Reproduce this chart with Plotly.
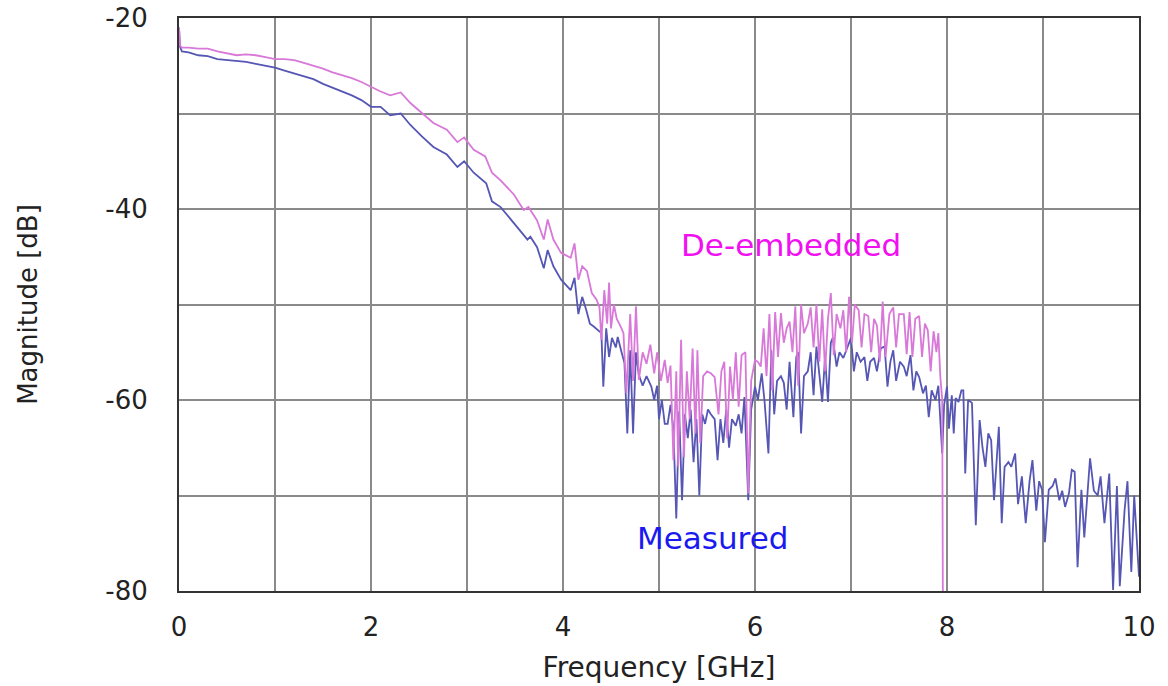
import plotly.graph_objects as go

# ---------------- data ----------------
deemb_freq = [0.00, 0.01, 0.03, 0.10, 0.20, 0.30, 0.40, 0.50, 0.60, 0.70, 0.80, 0.90,
              1.00, 1.10, 1.20, 1.30, 1.40, 1.50, 1.60, 1.70, 1.80, 1.90, 2.00, 2.10,
              2.20, 2.31, 2.41, 2.53, 2.65, 2.79, 2.90, 2.97, 3.07, 3.19, 3.26, 3.35,
              3.49, 3.59, 3.64, 3.73, 3.80, 3.84, 3.90, 3.98, 4.08, 4.12, 4.16,
              4.20, 4.25, 4.30, 4.35, 4.38, 4.40, 4.43, 4.46, 4.48,
              4.50, 4.53, 4.56, 4.60, 4.63, 4.66, 4.70, 4.73, 4.76, 4.79, 4.83, 4.87,
              4.91, 4.95, 4.98, 5.02, 5.06, 5.09, 5.12, 5.15, 5.18, 5.20, 5.23, 5.26,
              5.29, 5.32, 5.35, 5.38, 5.40, 5.43, 5.46, 5.50, 5.54, 5.58, 5.62, 5.65,
              5.68, 5.71, 5.74, 5.77, 5.80, 5.83, 5.86, 5.90, 5.93, 5.96, 6.00, 6.03,
              6.06, 6.09, 6.12, 6.15, 6.18, 6.21, 6.24, 6.27, 6.30, 6.33, 6.36, 6.39,
              6.42, 6.45, 6.48, 6.51, 6.55, 6.58, 6.61, 6.64, 6.67, 6.70, 6.73, 6.76,
              6.79, 6.82, 6.85, 6.89, 6.92, 6.95, 6.98, 7.01, 7.04, 7.08, 7.11, 7.14,
              7.18, 7.21, 7.24, 7.27, 7.30, 7.33, 7.36, 7.40, 7.44, 7.47, 7.50, 7.55,
              7.58, 7.61, 7.64, 7.67, 7.71, 7.74, 7.77, 7.80, 7.83, 7.86, 7.89, 7.91,
              7.93, 7.95, 7.96]
deemb_db = [-21.0, -22.9, -23.1, -23.1, -23.2, -23.2, -23.5, -23.7, -23.9, -23.8, -23.9, -24.1,
            -24.3, -24.3, -24.4, -24.7, -25.0, -25.3, -25.7, -26.0, -26.3, -26.7, -27.2, -27.7,
            -28.1, -27.8, -28.9, -30.0, -31.0, -31.7, -33.0, -32.5, -33.8, -34.5, -36.2, -37.0,
            -38.5, -40.1, -39.8, -41.2, -43.2, -41.1, -43.2, -44.6, -45.1, -43.6, -47.4,
            -46.0, -46.5, -48.8, -49.5, -50.3, -53.7, -48.5, -52.0, -47.7,
            -52.5, -50.0, -51.5, -52.3, -53.0, -59.3, -51.0, -58.0, -50.2, -57.9, -55.0, -56.2,
            -54.2, -57.2, -55.0, -58.0, -55.8, -58.2, -56.4, -66.3, -57.0, -67.0, -53.7, -66.0,
            -57.0, -62.0, -54.6, -63.5, -54.8, -64.5, -57.5, -57.0, -57.2, -57.6, -61.5, -57.0,
            -56.0, -64.0, -56.5, -60.0, -55.0, -60.7, -55.3, -55.0, -69.8, -58.0, -55.8, -56.0,
            -56.5, -52.5, -57.5, -51.0, -59.0, -50.8, -55.5, -50.9, -54.0, -52.5, -51.8, -55.0,
            -50.2, -58.5, -50.0, -53.0, -52.0, -50.3, -54.5, -50.0, -56.0, -50.5, -57.0, -51.5,
            -48.8, -55.3, -51.0, -52.5, -50.6, -55.0, -49.2, -54.0, -50.0, -50.6, -54.5, -51.0,
            -51.2, -55.0, -51.5, -52.2, -56.0, -49.7, -55.5, -51.0, -50.3, -54.5, -51.0, -51.0,
            -55.2, -50.8, -55.5, -51.5, -51.2, -55.5, -52.0, -52.7, -57.0, -52.8, -55.0, -53.0,
            -57.5, -60.0, -90.0]

meas_freq = [0.00, 0.01, 0.03, 0.10, 0.20, 0.30, 0.40, 0.50, 0.60, 0.70, 0.80, 0.90,
             1.00, 1.10, 1.20, 1.30, 1.40, 1.50, 1.60, 1.70, 1.80, 1.90, 2.00, 2.10,
             2.20, 2.31, 2.41, 2.53, 2.65, 2.79, 2.90, 2.97, 3.07, 3.20, 3.26, 3.35,
             3.49, 3.63, 3.66, 3.73, 3.80, 3.84, 3.90, 3.98, 4.08, 4.12, 4.16,
             4.20, 4.24, 4.28, 4.32, 4.36, 4.40,
             4.42, 4.45, 4.48, 4.51, 4.55, 4.57, 4.61, 4.64, 4.67, 4.70, 4.73, 4.76,
             4.79, 4.83, 4.87, 4.92, 4.95, 4.98, 5.00, 5.03, 5.06, 5.09, 5.12, 5.15,
             5.18, 5.21, 5.24, 5.27, 5.30, 5.33, 5.36, 5.39, 5.42, 5.45, 5.48, 5.51,
             5.54, 5.58, 5.61, 5.64, 5.67, 5.70, 5.73, 5.76, 5.80, 5.83, 5.86, 5.89,
             5.93, 5.96, 6.00, 6.03, 6.07, 6.10, 6.14, 6.17, 6.20, 6.23, 6.27, 6.30,
             6.33, 6.36, 6.40, 6.43, 6.45, 6.48, 6.51, 6.55, 6.58, 6.61, 6.64, 6.67,
             6.70, 6.73, 6.76, 6.79, 6.81, 6.85, 6.88, 6.92, 6.96, 7.00, 7.03, 7.06,
             7.10, 7.14, 7.17, 7.20, 7.24, 7.27, 7.31, 7.35, 7.38, 7.41, 7.44, 7.47,
             7.51, 7.55, 7.58, 7.62, 7.65, 7.68, 7.71, 7.75, 7.78, 7.81, 7.84, 7.88,
             7.91, 7.93, 7.95, 7.97, 8.00, 8.02, 8.05, 8.07, 8.09, 8.12, 8.15, 8.17,
             8.19, 8.22, 8.26, 8.30, 8.34, 8.37, 8.40, 8.43, 8.46, 8.49, 8.54, 8.57,
             8.60, 8.64, 8.67, 8.71, 8.74, 8.78, 8.82, 8.86, 8.89, 8.93, 8.96, 8.99,
             9.02, 9.06, 9.10, 9.13, 9.17, 9.20, 9.23, 9.27, 9.30, 9.33, 9.36, 9.40,
             9.43, 9.49, 9.53, 9.57, 9.60, 9.64, 9.69, 9.73, 9.77, 9.80, 9.85, 9.88,
             9.92, 9.95, 10.00]
meas_db = [-21.0, -23.0, -23.5, -23.6, -23.9, -24.0, -24.3, -24.4, -24.5, -24.6, -24.8, -25.0,
           -25.2, -25.5, -25.8, -26.1, -26.4, -26.9, -27.3, -27.7, -28.1, -28.6, -29.3, -29.3,
           -30.2, -30.0, -31.2, -32.4, -33.5, -34.3, -35.6, -35.0, -36.2, -37.3, -39.2, -39.8,
           -41.5, -43.2, -42.9, -44.0, -46.2, -44.3, -46.0, -47.4, -48.5, -47.2, -51.0,
           -49.2, -50.5, -52.0, -52.3, -52.7, -53.0,
           -58.6, -52.5, -55.5, -53.5, -54.5, -53.4, -55.0, -56.1, -63.5, -54.8, -63.5, -55.0,
           -57.4, -58.5, -57.5, -58.6, -60.0, -58.5, -62.0, -60.0, -62.5, -62.5, -60.5, -63.0,
           -72.4, -61.2, -70.5, -61.5, -64.0, -61.0, -66.5, -62.0, -70.0, -61.5, -62.5, -61.0,
           -61.5, -62.0, -66.3, -62.0, -64.5, -61.0, -65.0, -62.0, -62.7, -61.5, -63.5, -59.7,
           -70.5, -61.0, -58.6, -60.0, -57.2, -60.2, -65.6, -54.8, -61.5, -58.0, -57.5, -58.2,
           -61.0, -56.0, -61.8, -55.5, -55.0, -63.5, -57.5, -57.0, -55.0, -59.5, -54.4, -57.5,
           -60.2, -55.5, -60.2, -54.0, -53.5, -56.5, -55.0, -55.6, -54.5, -53.5, -57.0, -55.0,
           -56.0, -55.5, -58.0, -56.0, -55.6, -57.0, -54.6, -54.4, -58.6, -56.0, -54.8, -58.0,
           -56.0, -56.5, -57.5, -55.3, -59.0, -57.0, -57.6, -59.3, -58.5, -61.8, -59.0, -60.0,
           -58.5, -62.5, -65.6, -60.5, -58.6, -63.0, -59.5, -63.5, -59.8, -60.2, -59.0, -59.0,
           -67.7, -60.0, -60.3, -73.1, -62.1, -65.0, -67.0, -63.5, -64.2, -70.5, -62.8, -72.9,
           -67.0, -66.5, -67.0, -65.6, -70.9, -68.0, -72.9, -68.5, -66.3, -71.6, -68.5, -69.4,
           -74.9, -69.4, -69.0, -68.2, -70.5, -69.5, -71.2, -69.8, -67.3, -67.5, -77.5, -69.4,
           -74.4, -66.1, -69.5, -70.0, -68.0, -72.9, -67.7, -79.9, -69.0, -79.5, -71.5, -68.5,
           -78.0, -70.0, -78.5]

x_tick_vals = [0, 1, 2, 3, 4, 5, 6, 7, 8, 9, 10]
x_tick_text = ["0", "", "2", "", "4", "", "6", "", "8", "", "10"]
y_tick_vals = [-20, -30, -40, -50, -60, -70, -80]
y_tick_text = ["-20", "", "-40", "", "-60", "", "-80"]

FONT = "DejaVu Sans"

fig = go.Figure()
fig.add_trace(go.Scatter(x=meas_freq, y=meas_db, mode="lines", name="Measured",
                         line=dict(color="#5656b4", width=1.8)))
fig.add_trace(go.Scatter(x=deemb_freq, y=deemb_db, mode="lines", name="De-embedded",
                         line=dict(color="#d878d8", width=1.8)))

fig.add_annotation(x=6.37, y=-43.8, text="De-embedded", showarrow=False,
                   font=dict(family=FONT, size=31, color="#f010f0"))
fig.add_annotation(x=5.56, y=-74.5, text="Measured", showarrow=False,
                   font=dict(family=FONT, size=31, color="#1a1af0"))

fig.update_layout(
    width=1168, height=686,
    margin=dict(l=179, r=29, t=18, b=95),
    paper_bgcolor="white", plot_bgcolor="white",
    showlegend=False,
    font=dict(family=FONT, size=26, color="#222222"),
)
fig.update_xaxes(range=[0, 10], tickvals=x_tick_vals, ticktext=x_tick_text,
                 showgrid=True, gridcolor="#8a8a8a", gridwidth=1.5,
                 showline=True, linecolor="#333333", linewidth=2, mirror=True,
                 ticks="", ticklabelstandoff=12, zeroline=False, automargin=False,
                 ticklabeloverflow="allow",
                 tickfont=dict(family=FONT, size=26),
                 title=dict(text="Frequency [GHz]", font=dict(family=FONT, size=28), standoff=16))
fig.update_yaxes(range=[-80, -20], tickvals=y_tick_vals, ticktext=y_tick_text,
                 showgrid=True, gridcolor="#8a8a8a", gridwidth=1.5,
                 showline=True, linecolor="#333333", linewidth=2, mirror=True,
                 ticks="", ticklabelstandoff=24, zeroline=False, automargin=False,
                 ticklabeloverflow="allow",
                 tickfont=dict(family=FONT, size=26),
                 title=dict(text="Magnitude [dB]", font=dict(family=FONT, size=26), standoff=60))

# remove the browser's default 8px page margin so the figure fills the window exactly
fig.write_html("out.html", config={"displayModeBar": False},
               post_script="document.body.style.margin='0';")
